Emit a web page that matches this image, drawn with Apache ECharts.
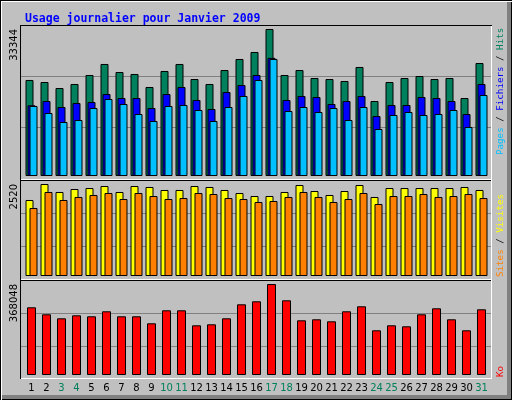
<!DOCTYPE html>
<html>
<head>
<meta charset="utf-8">
<title>Usage journalier pour Janvier 2009</title>
<script src="https://cdn.jsdelivr.net/npm/echarts@6/dist/echarts.min.js"></script>
<style>
    body { margin: 0; }
    #frame {
        position: relative; width: 512px; height: 400px; background: #c0c0c0;
        box-shadow: inset 1px 1px 0 #000, inset 2px 2px 0 #fff, inset -1px -1px 0 #000, inset -5px -5px 0 #808080;
    }
    #chart { position: absolute; left: 0; top: 0; width: 512px; height: 400px; }
</style>
</head>
<body>
<div id="frame"><div id="chart"></div></div>
<script>
// jours du mois
const days = ['1', '2', '3', '4', '5', '6', '7', '8', '9', '10', '11', '12', '13', '14', '15', '16',
    '17', '18', '19', '20', '21', '22', '23', '24', '25', '26', '27', '28', '29', '30', '31'];
const weekendDays = ['3', '4', '10', '11', '17', '18', '24', '25', '31'];

const hits = [21780, 21320, 19960, 20870, 22910, 25410, 23590, 23140, 20190, 23820, 25410, 22000, 20870, 24040, 26540, 28130,
    33344, 22910, 24040, 22230, 22000, 21550, 24730, 17010, 21320, 22230, 22680, 22000, 22230, 17690, 25630];
const files = [16040, 17010, 15650, 16560, 16790, 18600, 17690, 17690, 15420, 18600, 20190, 17240, 15200, 19050, 20640, 22910,
    26800, 17240, 18150, 17920, 16330, 17010, 18150, 13610, 16110, 16110, 17920, 17690, 17010, 14060, 20870];
const pages = [15880, 14290, 12250, 12700, 15420, 17470, 16330, 14060, 12480, 15880, 16110, 14970, 12480, 15650, 18150, 21780,
    26540, 14740, 15650, 14520, 15420, 12700, 15650, 10660, 13840, 14520, 13840, 14060, 14970, 11120, 18370];
const visits = [2082, 2520, 2301, 2383, 2410, 2465, 2301, 2465, 2438, 2356, 2356, 2465, 2438, 2356, 2273, 2191,
    2191, 2301, 2492, 2328, 2219, 2328, 2492, 2164, 2410, 2410, 2410, 2410, 2410, 2438, 2356];
const sites = [1863, 2301, 2082, 2164, 2219, 2273, 2109, 2273, 2191, 2109, 2136, 2273, 2246, 2136, 2109, 2027,
    2054, 2164, 2301, 2164, 2027, 2109, 2273, 1972, 2191, 2191, 2246, 2164, 2191, 2246, 2136];
const kbytes = [273810, 245500, 229320, 241460, 237410, 257630, 237410, 237410, 209100, 261680, 261680, 201010, 205060, 229320, 285950, 298080,
    368048, 302120, 221230, 225280, 217190, 257630, 277860, 180790, 201010, 196970, 245500, 269770, 225280, 180790, 265720];

const maxHits = Math.max(...hits);
const maxVisits = Math.max(...visits);
const maxKb = Math.max(...kbytes);

window.onload = function () {
    let chart = echarts.init(document.getElementById('chart'), null, { renderer: 'canvas' });

    let labelFont = { fontFamily: 'DejaVu Sans', fontSize: 10, color: '#000' };
    let sideFont = { fontFamily: 'DejaVu Sans Mono', fontSize: 9.2 };

    // cadre (fond) : lignes de repère
    let frameY = function (i) {
        return {
            gridIndex: i, type: 'value', min: 0, max: 3, interval: 1,
            axisLine: { show: false }, axisTick: { show: false }, axisLabel: { show: false },
            splitLine: { show: true, showMinLine: false, showMaxLine: false, lineStyle: { color: '#808080', width: 1 } }
        };
    };
    let frameX = function (i) {
        return { gridIndex: i, type: 'value', min: 0, max: 1, show: false };
    };
    let barX = function (i, withLabels) {
        return {
            gridIndex: i, type: 'category', data: days,
            axisLine: { show: false }, axisTick: { show: false },
            axisLabel: {
                show: withLabels, interval: 0, margin: 8, fontFamily: 'DejaVu Sans', fontSize: 10,
                color: (v) => weekendDays.indexOf(v) >= 0 ? '#00805c' : '#000'
            }
        };
    };
    let barY = function (i, maxVal) {
        return {
            gridIndex: i, type: 'value', min: 0, max: maxVal, interval: maxVal,
            axisLine: { show: false }, axisTick: { show: false }, splitLine: { show: false },
            axisLabel: Object.assign({
                rotate: 90, align: 'right', verticalAlign: 'middle', margin: 9.5,
                formatter: (v) => v === maxVal ? String(maxVal) : ''
            }, labelFont)
        };
    };
    let bar = function (name, data, color, axis, width, gap) {
        return {
            name: name, type: 'bar', data: data, xAxisIndex: axis, yAxisIndex: axis,
            barWidth: width, barGap: gap, silent: true,
            itemStyle: { color: color, borderColor: '#000', borderWidth: 1 }
        };
    };
    let hline = function (x1, x2, y, color) {
        return { type: 'line', z: 100, silent: true, shape: { x1: x1, y1: y, x2: x2, y2: y }, style: { stroke: color, lineWidth: 1 } };
    };
    let vline = function (x, y1, y2, color) {
        return { type: 'line', z: 100, silent: true, shape: { x1: x, y1: y1, x2: x, y2: y2 }, style: { stroke: color, lineWidth: 1 } };
    };
    let sideText = function (y, text, rich) {
        return {
            type: 'text', x: 501, y: y, rotation: Math.PI / 2, z: 100, silent: true,
            style: Object.assign({ text: text, rich: rich, align: 'left', verticalAlign: 'middle', fill: '#000' }, sideFont)
        };
    };

    let option = {
        animation: false,
        title: {
            text: 'Usage journalier pour Janvier 2009', left: 20, top: 8,
            textStyle: { color: '#0000ff', fontFamily: 'DejaVu Sans Mono', fontWeight: 'bold', fontSize: 11.5 }
        },
        grid: [
            { left: 21, width: 470, top: 26, height: 152 },
            { left: 21, width: 470, top: 180, height: 100 },
            { left: 21, width: 470, top: 280, height: 99 },
            { left: 24, width: 465, top: 29, height: 147 },
            { left: 24, width: 465, top: 184, height: 92 },
            { left: 24, width: 465, top: 284, height: 91 }
        ],
        xAxis: [frameX(0), frameX(1), frameX(2), barX(3, false), barX(4, false), barX(5, true)],
        yAxis: [frameY(0), frameY(1), frameY(2), barY(3, maxHits), barY(4, maxVisits), barY(5, maxKb)],
        series: [
            bar('Hits', hits, '#00805c', 3, 8, '-75%'),
            bar('Fichiers', files, '#0000ff', 3, 8, '-75%'),
            bar('Pages', pages, '#00c0ff', 3, 8, '-75%'),
            bar('Visites', visits, '#ffff00', 4, 8, '-50%'),
            bar('Sites', sites, '#ff8000', 4, 8, '-50%'),
            bar('Ko', kbytes, '#ff0000', 5, 9, '0%')
        ],
        graphic: [
            hline(20, 492, 25.5, '#000'),
            vline(20.5, 25, 379, '#000'),
            hline(21, 492, 378.5, '#fff'),
            vline(491.5, 26, 379, '#fff'),
            hline(21, 491, 179.5, '#fff'),
            hline(21, 491, 180.5, '#000'),
            hline(21, 491, 279.5, '#fff'),
            hline(21, 491, 280.5, '#000'),
            sideText(155, '{p|Pages} / {f|Fichiers} / {h|Hits}', {
                p: Object.assign({ fill: '#00c0ff' }, sideFont),
                f: Object.assign({ fill: '#0000ff' }, sideFont),
                h: Object.assign({ fill: '#00805c' }, sideFont)
            }),
            sideText(277, '{s|Sites} / {v|Visites}', {
                s: Object.assign({ fill: '#ff8000' }, sideFont),
                v: Object.assign({ fill: '#ffff00' }, sideFont)
            }),
            sideText(377, '{k|Ko}', {
                k: Object.assign({ fill: '#ff0000' }, sideFont)
            })
        ]
    };
    chart.setOption(option);
};
</script>
</body>
</html>
